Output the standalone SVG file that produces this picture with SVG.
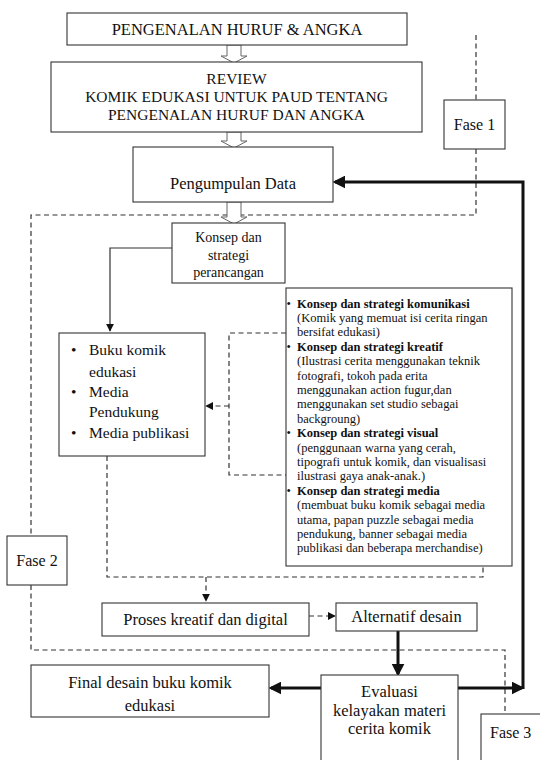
<svg xmlns="http://www.w3.org/2000/svg" width="540" height="760" viewBox="0 0 540 760">
<defs>
<style>
.box{fill:#fff;stroke:#333;stroke-width:1.1}
.t{font-family:"Liberation Serif","Times New Roman",serif;fill:#111}
.c{text-anchor:middle}
.s{font-size:12.5px}
.b{font-weight:bold}
.dash{fill:none;stroke:#333;stroke-width:1.2;stroke-dasharray:5,3.5}
.thin{fill:none;stroke:#333;stroke-width:1.2}
.thick{fill:none;stroke:#111;stroke-width:3}
.hollow{fill:#fff;stroke:#666;stroke-width:1}
</style>
<marker id="ma" viewBox="0 0 10 10" refX="9" refY="5" markerWidth="8" markerHeight="8" markerUnits="userSpaceOnUse" orient="auto"><path d="M0,0 L10,5 L0,10 z" fill="#111"/></marker>
<marker id="mb" viewBox="0 0 10 10" refX="8" refY="5" markerWidth="13" markerHeight="13" markerUnits="userSpaceOnUse" orient="auto"><path d="M0,0 L10,5 L0,10 z" fill="#111"/></marker>
</defs>
<rect width="540" height="760" fill="#fff"/>

<g id="connectors">
<polygon class="hollow" points="227,45 241,45 241,56 247,56 234,63 221,56 227,56"/>
<polygon class="hollow" points="227,132 241,132 241,141 247,141 234,148 221,141 227,141"/>
<path class="dash" d="M476,35 V100 M476,149 V215 H31 V536 M31,585 V650 H505 V714"/>
<polygon class="hollow" points="227,202 241,202 241,217 247,217 234,224 221,217 227,217"/>
<path class="thin" d="M172,248 H110 V331" marker-end="url(#ma)"/>
<path class="dash" d="M286,333 H229 V475 H286"/>
<path class="dash" d="M229,406 H206" marker-end="url(#ma)"/>
<path class="dash" d="M107,456 V577 H483 V566"/>
<path class="dash" d="M206,577 V601" marker-end="url(#ma)"/>
<path class="dash" d="M309,616 H335" marker-end="url(#ma)"/>
<path class="thick" d="M398,631 V674" marker-end="url(#mb)"/>
<path class="thick" d="M321,688 H271" marker-end="url(#mb)"/>
<path class="thick" d="M458,688 H522" marker-end="url(#mb)"/>
<path class="thick" d="M523,689 V182 H335" marker-end="url(#mb)"/>
</g>

<g id="n1"><rect class="box" x="67" y="13" width="340" height="32"/><text class="t c" x="237" y="35" font-size="16.5">PENGENALAN HURUF &amp; ANGKA</text></g>
<g id="n2"><rect class="box" x="51" y="62" width="371" height="70"/>
<text class="t c" x="236.5" y="84" font-size="15.5">REVIEW</text>
<text class="t c" x="236.5" y="102" font-size="15.5">KOMIK EDUKASI UNTUK PAUD TENTANG</text>
<text class="t c" x="236.5" y="120" font-size="15.5">PENGENALAN HURUF DAN ANGKA</text></g>
<g id="n3"><rect class="box" x="133" y="147" width="200" height="55"/><text class="t c" x="233" y="189" font-size="16.5">Pengumpulan Data</text></g>
<g id="fase1"><rect class="box" x="444" y="100" width="61" height="49"/><text class="t c" x="474.5" y="130" font-size="16">Fase 1</text></g>
<g id="n4"><rect class="box" x="172" y="223" width="113" height="60"/>
<text class="t c" x="228.5" y="242" font-size="14">Konsep dan</text>
<text class="t c" x="228.5" y="260" font-size="14">strategi</text>
<text class="t c" x="228.5" y="277" font-size="14">perancangan</text></g>
<g id="n5"><rect class="box" x="59" y="333" width="146" height="123"/>
<g class="t" font-size="15.5">
<text x="71" y="355">•</text><text x="89" y="355">Buku komik</text>
<text x="89" y="377">edukasi</text>
<text x="71" y="397">•</text><text x="89" y="397">Media</text>
<text x="89" y="417">Pendukung</text>
<text x="71" y="438">•</text><text x="89" y="438">Media publikasi</text>
</g></g>
<g id="n6"><rect class="box" x="286" y="288" width="226" height="278"/>
<g class="t s">
<text x="286.5" y="307.5">•</text><text class="b" x="297" y="307.5">Konsep dan strategi komunikasi</text>
<text x="297" y="321.9">(Komik yang memuat isi cerita ringan</text>
<text x="297" y="336.3">bersifat edukasi)</text>
<text x="286.5" y="350.7">•</text><text class="b" x="297" y="350.7">Konsep dan strategi kreatif</text>
<text x="297" y="365.1">(Ilustrasi cerita menggunakan teknik</text>
<text x="297" y="379.5">fotografi, tokoh pada erita</text>
<text x="297" y="393.9">menggunakan action fugur,dan</text>
<text x="297" y="408.3">menggunakan set studio sebagai</text>
<text x="297" y="422.7">backgroung)</text>
<text x="286.5" y="437.1">•</text><text class="b" x="297" y="437.1">Konsep dan strategi visual</text>
<text x="297" y="451.5">(penggunaan warna yang cerah,</text>
<text x="297" y="465.9">tipografi untuk komik, dan visualisasi</text>
<text x="297" y="480.3">ilustrasi gaya anak-anak.)</text>
<text x="286.5" y="494.7">•</text><text class="b" x="297" y="494.7">Konsep dan strategi media</text>
<text x="297" y="509.1">(membuat buku komik sebagai media</text>
<text x="297" y="523.5">utama, papan puzzle sebagai media</text>
<text x="297" y="537.9">pendukung, banner sebagai media</text>
<text x="297" y="552.3">publikasi dan beberapa merchandise)</text>
</g></g>
<g id="fase2"><rect class="box" x="7" y="536" width="60" height="49"/><text class="t c" x="37" y="566" font-size="16">Fase 2</text></g>
<g id="n7"><rect class="box" x="102" y="603" width="207" height="33"/><text class="t c" x="205.5" y="625" font-size="16.5">Proses kreatif dan digital</text></g>
<g id="n8"><rect class="box" x="336" y="603" width="141" height="28"/><text class="t c" x="406.5" y="622" font-size="16.5">Alternatif desain</text></g>
<g id="n9"><rect class="box" x="31" y="665" width="238" height="52"/>
<text class="t c" x="150" y="688" font-size="16.5">Final desain buku komik</text>
<text class="t c" x="150" y="711" font-size="16.5">edukasi</text></g>
<g id="n10"><rect class="box" x="321" y="675" width="137" height="100"/>
<text class="t c" x="389.5" y="697" font-size="16.5">Evaluasi</text>
<text class="t c" x="389.5" y="716" font-size="16.5">kelayakan materi</text>
<text class="t c" x="389.5" y="734" font-size="16.5">cerita komik</text></g>
<g id="fase3"><rect class="box" x="481" y="714" width="64" height="56"/><text class="t" x="490" y="738" font-size="16">Fase 3</text></g>
</svg>
